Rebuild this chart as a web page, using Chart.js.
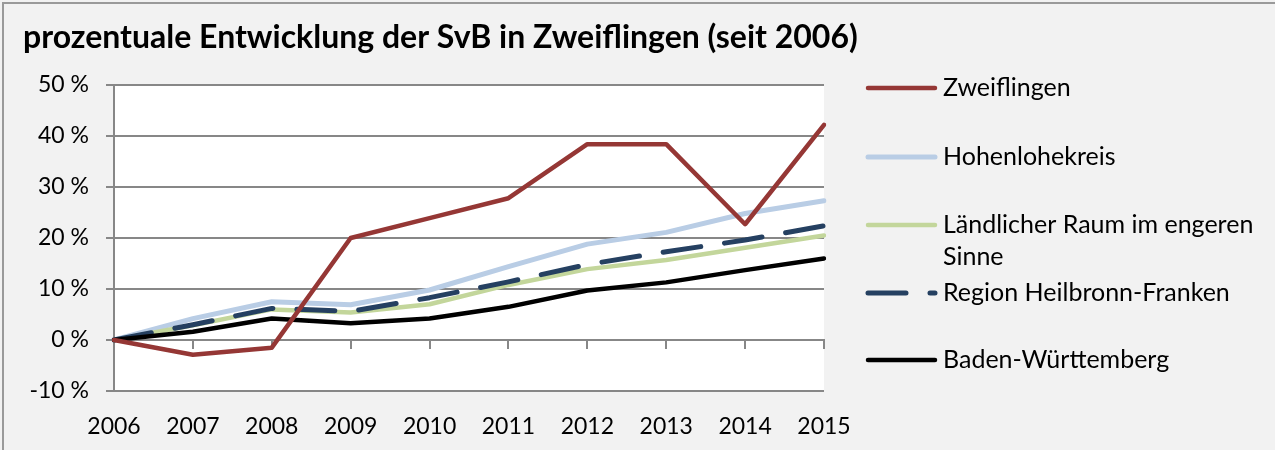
<!DOCTYPE html>
<html>
<head>
<meta charset="utf-8">
<script src="https://cdn.jsdelivr.net/npm/chart.js@4.4.1/dist/chart.umd.min.js"></script>
<style>
    html, body { margin: 0; padding: 0; background: #f2f2f2; }
    #wrap { width: 1275px; height: 450px; }
</style>
</head>
<body>
<div id="wrap"><canvas id="chart" width="1275" height="450"></canvas></div>
<script>
// data
const years = ['2006', '2007', '2008', '2009', '2010', '2011', '2012', '2013', '2014', '2015'];
const zweiflingen = [0, -2.9, -1.5, 20.0, 23.9, 27.8, 38.4, 38.4, 22.7, 42.2];
const hohenlohekreis = [0, 4.2, 7.5, 6.9, 9.8, 14.4, 18.8, 21.1, 24.8, 27.3];
const laendlicherRaum = [0, 2.9, 6.0, 5.4, 7.0, 10.8, 13.9, 15.7, 18.1, 20.5];
const regionHeilbronnFranken = [0, 3.0, 6.2, 5.6, 8.3, 11.4, 14.8, 17.3, 19.6, 22.4];
const badenWuerttemberg = [0, 1.6, 4.2, 3.3, 4.2, 6.5, 9.7, 11.3, 13.7, 16.0];
const seriesNames = ['Zweiflingen', 'Hohenlohekreis', 'Ländlicher Raum im engeren Sinne', 'Region Heilbronn-Franken', 'Baden-Württemberg'];
const yMin = -10;
const yMax = 50;
const yStep = 10;
const chartTitle = 'prozentuale Entwicklung der SvB in Zweiflingen (seit 2006)';

const FONT = 'Lato';
const GRID = '#878787';

function makeLine(label, data, color, width, order, dash) {
    return {
        label: label,
        data: data,
        borderColor: color,
        backgroundColor: color,
        borderWidth: width,
        borderDash: dash || [],
        borderCapStyle: 'round',
        borderJoinStyle: 'round',
        pointRadius: 0,
        pointHoverRadius: 0,
        tension: 0,
        fill: false,
        order: order
    };
}

const datasets = [
    makeLine(seriesNames[0], zweiflingen, '#953735', 4.5, 1),
    makeLine(seriesNames[1], hohenlohekreis, '#b9cde5', 5, 5),
    makeLine(seriesNames[2], laendlicherRaum, '#c3d69b', 4.5, 4),
    makeLine(seriesNames[3], regionHeilbronnFranken, '#254061', 5, 3, [38, 24]),
    makeLine(seriesNames[4], badenWuerttemberg, '#000000', 4.5, 2)
];

// white plot area, frame, title and the legend on the right
const decorations = {
    id: 'decorations',
    beforeDraw(chart) {
        const ctx = chart.ctx;
        const a = chart.chartArea;
        ctx.save();
        ctx.fillStyle = '#ffffff';
        ctx.fillRect(a.left, a.top, a.right - a.left, a.bottom - a.top);
        ctx.strokeStyle = '#9a9a9a';
        ctx.lineWidth = 2;
        ctx.strokeRect(3, 3, chart.width + 10, chart.height + 10);
        ctx.restore();
    },
    afterDraw(chart) {
        const ctx = chart.ctx;
        ctx.save();
        ctx.fillStyle = '#000000';
        ctx.textBaseline = 'alphabetic';
        ctx.font = 'bold 32px ' + FONT;
        ctx.fillText(chartTitle, 23, 48);

        const rows = [
            { y: 88, lines: ['Zweiflingen'] },
            { y: 157, lines: ['Hohenlohekreis'] },
            { y: 225, lines: ['Ländlicher Raum im engeren', 'Sinne'] },
            { y: 293, lines: ['Region Heilbronn-Franken'] },
            { y: 360, lines: ['Baden-Württemberg'] }
        ];
        ctx.textBaseline = 'middle';
        ctx.font = '25px ' + FONT;
        rows.forEach((row, i) => {
            const ds = chart.data.datasets[i];
            ctx.beginPath();
            ctx.strokeStyle = ds.borderColor;
            ctx.lineWidth = ds.borderWidth;
            ctx.lineCap = 'round';
            ctx.setLineDash(ds.borderDash);
            ctx.moveTo(868, row.y);
            ctx.lineTo(935, row.y);
            ctx.stroke();
            ctx.setLineDash([]);
            row.lines.forEach((t, j) => {
                ctx.fillText(t, 943, row.y + j * 32);
            });
        });
        ctx.restore();
    }
};

new Chart(document.getElementById('chart'), {
    type: 'line',
    data: {
        labels: years,
        datasets: datasets
    },
    options: {
        responsive: false,
        animation: false,
        events: [],
        layout: {
            padding: { left: 0, right: 451, top: 85, bottom: 0 }
        },
        plugins: {
            legend: { display: false },
            title: { display: false },
            tooltip: { enabled: false }
        },
        scales: {
            y: {
                min: yMin,
                max: yMax,
                afterFit(scale) { scale.width = 114; },
                ticks: {
                    stepSize: yStep,
                    color: '#000000',
                    padding: 17,
                    font: { family: FONT, size: 23 },
                    callback: (v) => v + ' %'
                },
                grid: { color: GRID, lineWidth: 2, tickLength: 8 },
                border: { color: GRID, width: 2 }
            },
            x: {
                position: { y: 0 },
                offset: false,
                ticks: { display: false },
                grid: { drawOnChartArea: false, color: GRID, lineWidth: 2, tickLength: 8 },
                border: { color: GRID, width: 2 }
            },
            x2: {
                type: 'category',
                position: 'bottom',
                offset: false,
                afterFit(scale) { scale.height = 59; },
                ticks: {
                    color: '#000000',
                    padding: 14,
                    maxRotation: 0,
                    autoSkip: false,
                    font: { family: FONT, size: 23 }
                },
                grid: { display: false },
                border: { display: false }
            }
        }
    },
    plugins: [decorations]
});
</script>
</body>
</html>
